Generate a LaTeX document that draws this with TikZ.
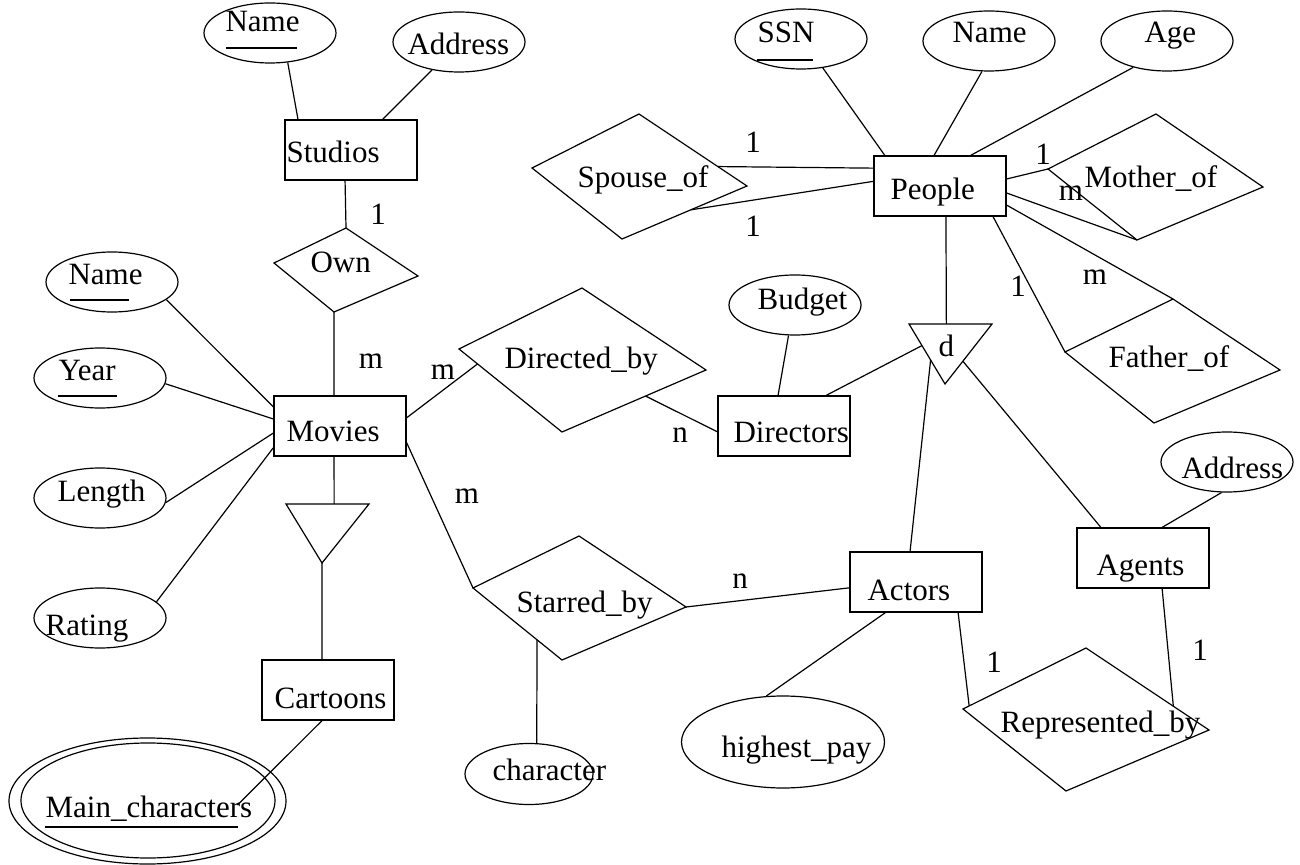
\documentclass[tikz,border=0pt]{standalone}
\usepackage{fontspec}
\setmainfont{Liberation Serif}
\usetikzlibrary{shapes.geometric,calc}

\tikzset{
  entity/.style={draw, rectangle, inner sep=0pt, minimum width=66pt, minimum height=30pt},
  attr/.style={draw, ellipse, inner sep=0pt, minimum width=66pt, minimum height=30pt},
  lbl/.style={anchor=base west, inner sep=0pt, font=\fontsize{15.5}{18}\selectfont},
  card/.style={anchor=base, inner sep=0pt, font=\fontsize{15.5}{18}\selectfont}
}

\begin{document}
\begin{tikzpicture}[x=0.5pt, y=-0.5pt, line width=0.6pt]
\useasboundingbox (0,0) rectangle (1300,865);

% entity sets
\node[entity] (studios) at (351,150) {};
\node[entity] (movies) at (340,426) {};
\node[entity] (cartoons) at (328,690) {};
\node[entity] (people) at (940,186) {};
\node[entity] (directors) at (784,426) {};
\node[entity] (actors) at (916,582) {};
\node[entity] (agents) at (1143,558) {};

% attributes
\node[attr] (sname) at (270,33) {};
\node[attr] (saddr) at (459,42) {};
\node[attr] (mname) at (112,282) {};
\node[attr] (year) at (100,378) {};
\node[attr] (length) at (100,498) {};
\node[attr] (rating) at (100,618) {};
\node[attr, minimum width=138.5pt, minimum height=63pt] (mainchar) at (147.5,801) {};
\draw (148,800.5) ellipse [x radius=63.5pt, y radius=28.75pt];
\node[attr] (ssn) at (801,39) {};
\node[attr] (pname) at (989,41) {};
\node[attr] (age) at (1167,41) {};
\node[attr] (budget) at (795,305) {};
\node[attr] (aaddr) at (1227,462) {};
\node[attr, minimum width=64pt, minimum height=30.5pt] (charac) at (529,774) {};
\node[attr, minimum width=101.5pt, minimum height=46pt] (highest) at (783,742) {};

% relationships
\coordinate (own-t) at (346,228); \coordinate (own-r) at (418,276);
\coordinate (own-b) at (334,312); \coordinate (own-l) at (274,263);
\draw (own-t) -- (own-r) -- (own-b) -- (own-l) -- cycle;
\coordinate (dir-t) at (582,288); \coordinate (dir-r) at (706,370);
\coordinate (dir-b) at (562,432); \coordinate (dir-l) at (459,349);
\draw (dir-t) -- (dir-r) -- (dir-b) -- (dir-l) -- cycle;
\coordinate (st-t) at (579,536); \coordinate (st-r) at (686,607);
\coordinate (st-b) at (562,660); \coordinate (st-l) at (473,588);
\draw (st-t) -- (st-r) -- (st-b) -- (st-l) -- cycle;
\coordinate (rep-t) at (1086,648); \coordinate (rep-r) at (1209,730);
\coordinate (rep-b) at (1066,791); \coordinate (rep-l) at (963,709);
\draw (rep-t) -- (rep-r) -- (rep-b) -- (rep-l) -- cycle;
\coordinate (sp-t) at (639,114); \coordinate (sp-r) at (747,186);
\coordinate (sp-b) at (622,239); \coordinate (sp-l) at (532,168);
\draw (sp-t) -- (sp-r) -- (sp-b) -- (sp-l) -- cycle;
\coordinate (mo-t) at (1156,114); \coordinate (mo-r) at (1263,187);
\coordinate (mo-b) at (1137,240); \coordinate (mo-l) at (1048,169);
\draw (mo-t) -- (mo-r) -- (mo-b) -- (mo-l) -- cycle;
\coordinate (fa-t) at (1173,299); \coordinate (fa-r) at (1280,370);
\coordinate (fa-b) at (1154,423); \coordinate (fa-l) at (1065,352);
\draw (fa-t) -- (fa-r) -- (fa-b) -- (fa-l) -- cycle;

% isa triangles
\coordinate (isa1-tl) at (286,504); \coordinate (isa1-tr) at (369,504);
\coordinate (isa1-b) at (322,563);
\draw (isa1-tl) -- (isa1-tr) -- (isa1-b) -- cycle;
\coordinate (isa2-tl) at (909,324); \coordinate (isa2-tr) at (992,324);
\coordinate (isa2-b) at (945,384);
\draw (isa2-tl) -- (isa2-tr) -- (isa2-b) -- cycle;

% texts
\node[lbl] (sname-l) at (225,32) {Name};
\node[lbl] (saddr-l) at (407,55) {Address};
\node[lbl] (studios-l) at (286,163) {Studios};
\node[lbl] (own-lb) at (310,273) {Own};
\node[lbl] (mname-l) at (68,285) {Name};
\node[lbl] (year-l) at (58,381) {Year};
\node[lbl] (length-l) at (57,502) {Length};
\node[lbl] (rating-l) at (45,635) {Rating};
\node[lbl] (movies-l) at (286,442) {Movies};
\node[lbl] (cartoons-l) at (274,708) {Cartoons};
\node[lbl] (mainchar-l) at (45,817) {Main\_characters};
\node[lbl] (dir-lb) at (504,369) {Directed\_by};
\node[lbl] (directors-l) at (733,443) {Directors};
\node[lbl] (budget-l) at (757,310) {Budget};
\node[lbl] (isa2-l) at (938,357) {d};
\node[lbl] (st-lb) at (516,612) {Starred\_by};
\node[lbl] (charac-l) at (492,780) {character};
\node[lbl] (actors-l) at (867,600) {Actors};
\node[lbl] (highest-l) at (721,757) {highest\_pay};
\node[lbl] (rep-lb) at (1000,732) {Represented\_by};
\node[lbl] (agents-l) at (1096,575) {Agents};
\node[lbl] (aaddr-l) at (1181,479) {Address};
\node[lbl] (fa-lb) at (1108,368) {Father\_of};
\node[lbl] (mo-lb) at (1084,188) {Mother\_of};
\node[lbl] (people-l) at (890,200) {People};
\node[lbl] (ssn-l) at (757,43) {SSN};
\node[lbl] (pname-l) at (952,43) {Name};
\node[lbl] (age-l) at (1144,43) {Age};
\node[lbl] (sp-lb) at (577,188) {Spouse\_of};

% keys
\draw (226,48) -- (297,48);
\draw (757,60) -- (813,60);
\draw (70,300) -- (129,300);
\draw (58,396) -- (117,396);
\draw (45,827) -- (238,827);

% connectors
\draw (sname.-59) -- (studios.150);
\draw (saddr.-134) -- (studios.44);
\draw (studios.-101) -- (own-t);
\draw (own-b) -- (movies.101);
\draw (mname.-18) -- (movies.164);
\draw (year.-5) -- (movies.174);
\draw (length.-4) -- (movies.-174);
\draw (rating.16) -- (movies.-162);
\draw (movies.-101) -- ($(isa1-tl)!0.58!(isa1-tr)$);
\draw (isa1-b) -- (cartoons.101);
\draw (cartoons.-101) -- ([shift={(90,4)}]mainchar.center);
\draw (movies.7) -- ($(dir-l)!0.18!(dir-b)$);
\draw ($(dir-b)!0.58!(dir-r)$) -- (directors.185);
\draw (budget.-102) -- (directors.101);
\draw (directors.36) -- ($(isa2-tl)!0.36!(isa2-b)$);
\draw (people.-79) -- ($(isa2-tl)!0.45!(isa2-tr)$);
\draw ($(isa2-tl)!0.6!(isa2-b)$) -- (actors.101);
\draw ($(isa2-tr)!0.62!(isa2-b)$) -- (agents.144);
\draw (aaddr.-100) -- (agents.58);
\draw (agents.-58) -- ($(rep-t)!0.71!(rep-r)$);
\draw (actors.-36) -- ($(rep-l)!0.05!(rep-t)$);
\draw (actors.-135) -- (highest.110);
\draw (st-r) -- (actors.185);
\draw (movies.-14) -- (st-l);
\draw ($(st-l)!0.72!(st-b)$) -- (charac.76);
\draw (ssn.-53) -- (people.151);
\draw (pname.-103) -- (people.101);
\draw (age.-142) -- (people.45);
\draw ($(sp-t)!0.73!(sp-r)$) -- (people.165);
\draw ($(sp-b)!0.55!(sp-r)$) -- (people.176);
\draw (people.6) -- (mo-l);
\draw (people.-6) -- (mo-b);
\draw (people.-16) -- (fa-t);
\draw (people.-30) -- (fa-l);

% cardinalities
\node[card] (c-own1) at (378,225) {1};
\node[card] (c-own2) at (371,369) {m};
\node[card] (c-dir1) at (443,380) {m};
\node[card] (c-dir2) at (680,443) {n};
\node[card] (c-st1) at (467,503) {m};
\node[card] (c-st2) at (740,588) {n};
\node[card] (c-rep1) at (994,672) {1};
\node[card] (c-rep2) at (1200,660) {1};
\node[card] (c-sp1) at (753,153) {1};
\node[card] (c-sp2) at (753,237) {1};
\node[card] (c-mo1) at (1043,165) {1};
\node[card] (c-mo2) at (1071,201) {m};
\node[card] (c-fa1) at (1095,285) {m};
\node[card] (c-fa2) at (1018,297) {1};
\end{tikzpicture}
\end{document}
